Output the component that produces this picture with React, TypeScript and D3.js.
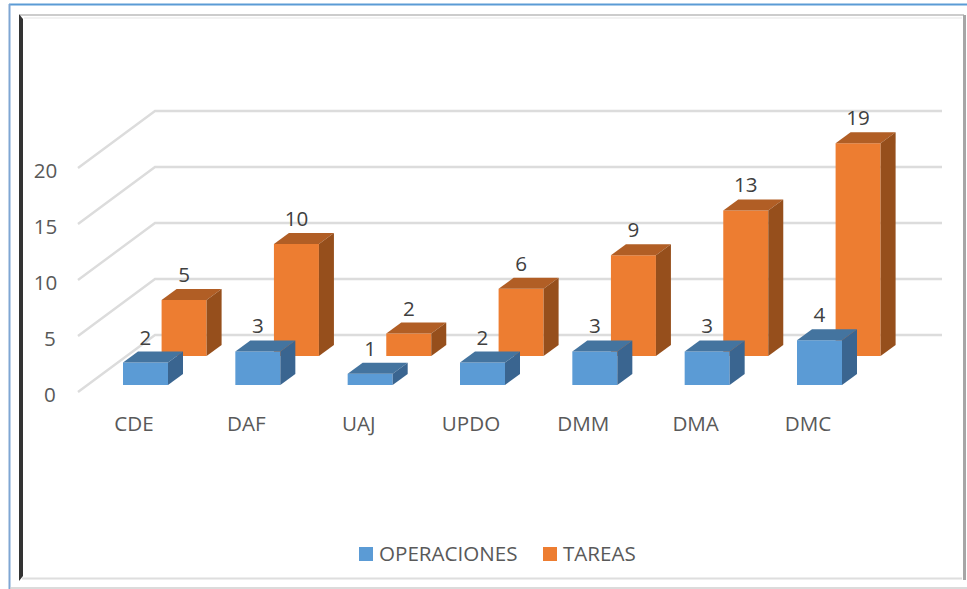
import React from "react";
import * as d3 from "d3";

const categories = ["CDE", "DAF", "UAJ", "UPDO", "DMM", "DMA", "DMC"];
const operaciones = [2, 3, 1, 2, 3, 3, 4];
const tareas = [5, 10, 2, 6, 9, 13, 19];
const yTicks = [0, 5, 10, 15, 20];
const FONT = "'Open Sans', sans-serif";
const FS = 20.6;

export default function App() {
  const y = d3.scaleLinear().domain([0, 20]).range([0, 224]);
  const x = d3.scalePoint<string>().domain(categories).range([123, 797]);
  const barW = 45, dx = 15, dy = 11;
  const frontFloor = 385, backFloor = 356, wallFloor = 335;

  const bar = (cat: string, v: number, off: number, floor: number, c: string[]) => {
    const x0 = (x(cat) as number) + off;
    const x1 = x0 + barW;
    const top = floor - y(v);
    const line = d3.line();
    return (
      <g key={cat}>
        <path d={line([[x0, top], [x1, top], [x1, floor], [x0, floor]]) + "Z"} fill={c[0]} />
        <path d={line([[x0, top], [x1, top], [x1 + dx, top - dy], [x0 + dx, top - dy]]) + "Z"} fill={c[1]} />
        <path d={line([[x1, top], [x1 + dx, top - dy], [x1 + dx, floor - dy], [x1, floor]]) + "Z"} fill={c[2]} />
        <text x={x0 + barW / 2} y={top - 18} textAnchor="middle" fontSize={FS} fill="#404040" fontFamily={FONT}>{v}</text>
      </g>
    );
  };

  return (
    <svg width={967} height={589} style={{ position: "absolute", left: 0, top: 0, display: "block", background: "#fff" }}>
      {/* frame */}
      <line x1={9} x2={967} y1={4.5} y2={4.5} stroke="#5B9BD5" strokeWidth={2} />
      <line x1={9.5} x2={9.5} y1={4} y2={589} stroke="#7FA6D3" strokeWidth={2} />
      <line x1={10} x2={967} y1={588} y2={588} stroke="#cfcfcf" strokeWidth={1.5} />
      <line x1={20} x2={964} y1={15} y2={15} stroke="#cccccc" strokeWidth={2} />
      <line x1={24} x2={962} y1={18} y2={18} stroke="#eeeeee" strokeWidth={1.5} />
      <line x1={22} x2={962} y1={578.5} y2={578.5} stroke="#dedede" strokeWidth={2} />
      <line x1={964.5} x2={964.5} y1={15} y2={580} stroke="#a6a6a6" strokeWidth={3} />
      <path d="M19,14 L23,19 L23,576 L19,581 Z" fill="#333333" />

      {/* walls */}
      {yTicks.map((t) => {
        const gy = wallFloor - y(t);
        return (
          <g key={t}>
            <polyline points={`78,${gy + 57} 155,${gy} 942,${gy}`} fill="none" stroke="#dcdcdc" strokeWidth={2.4} />
            <text x={t >= 10 ? 45.5 : 50} y={gy + 66.5} textAnchor="middle" fontSize={FS} fill="#595959" fontFamily={FONT}>{t}</text>
          </g>
        );
      })}

      {categories.map((c, i) => bar(c, tareas[i], 38.6, backFloor, ["#ED7D31", "#B15E25", "#964F1C"]))}
      {categories.map((c, i) => bar(c, operaciones[i], 0, frontFloor, ["#5B9BD5", "#44749F", "#3A6590"]))}

      {categories.map((c) => (
        <text key={c} x={(x(c) as number) + 11} y={431} textAnchor="middle" fontSize={FS} fill="#595959" fontFamily={FONT}>{c}</text>
      ))}

      {/* legend */}
      <rect x={359} y={547} width={14} height={14} fill="#5B9BD5" />
      <text x={379} y={561} fontSize={FS} fill="#595959" fontFamily={FONT}>OPERACIONES</text>
      <rect x={543} y={547} width={14} height={14} fill="#ED7D31" />
      <text x={563} y={561} fontSize={FS} fill="#595959" fontFamily={FONT}>TAREAS</text>
    </svg>
  );
}
